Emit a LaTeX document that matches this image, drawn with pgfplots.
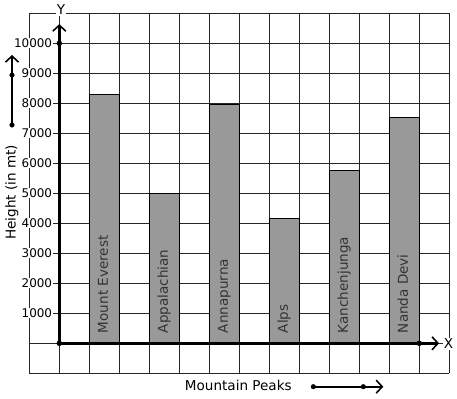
\documentclass[border=0pt]{standalone}
\usepackage{fontspec}
\setmainfont{DejaVu Sans}
\usepackage{pgfplots}
\pgfplotsset{compat=1.18}
\usetikzlibrary{arrows.meta}
\definecolor{barfill}{HTML}{999999}
\definecolor{gridc}{HTML}{262626}
\definecolor{labc}{HTML}{333333}
\newcommand{\bigf}{\fontsize{13.6}{16}\selectfont}
\tikzset{barb/.style={-{Straight Barb[length=6bp,width=13bp,line width=1.6bp]}},
  blab/.style={rotate=90, anchor=base west, inner sep=0, text=labc, font=\bigf}}
\begin{document}
\begin{tikzpicture}
\useasboundingbox (-29.3bp,-25.7bp) rectangle (427.7bp,373.3bp);
\begin{axis}[
  scale only axis, width=420bp, height=360bp,
  xmin=-1, xmax=13, ymin=-1000, ymax=11000,
  axis line style={draw=none},
  scaled y ticks=false, scaled x ticks=false,
  xtick={-1,0,...,13}, xticklabels={},
  ytick={1000,2000,...,10000},
  yticklabels={1000,2000,3000,4000,5000,6000,7000,8000,9000,10000},
  minor ytick={-1000,0,11000},
  grid=both,
  major grid style={gridc, line width=0.8bp},
  minor grid style={gridc, line width=0.8bp},
  major tick length=0, minor tick length=0,
  yticklabel style={font=\fontsize{12}{14}\selectfont, fill=white, inner xsep=1bp, inner ysep=0.5bp, anchor=east, xshift=24bp},
  clip=false,
]
\addplot[ybar, bar width=1, fill=barfill, draw=black, line width=0.8bp]
  coordinates {(1.5,8300) (3.5,5000) (5.5,7960) (7.5,4170) (9.5,5770) (11.5,7520)};
\addplot[line width=2.5bp, barb] coordinates {(0,0) (0,10640)};
\addplot[line width=2.5bp, barb] coordinates {(0,0) (12.66,0)};
\addplot[only marks, mark=*, mark size=2.5bp, black] coordinates {(0,0) (0,10000) (12,0)};
\addplot[line width=2bp, barb] coordinates {(-1.577,7277) (-1.577,9610)};
\addplot[only marks, mark=*, mark size=2.3bp, black] coordinates {(-1.577,7277) (-1.577,8940)};
\addplot[line width=2bp, barb] coordinates {(8.467,-1447) (10.8,-1447)};
\addplot[only marks, mark=*, mark size=2.3bp, black] coordinates {(8.467,-1447) (10.133,-1447)};
\node[rotate=90, font=\bigf] at (axis cs:-1.577,5030) {Height (in mt)};
\node[font=\bigf] at (axis cs:5.967,-1390) {Mountain Peaks};
\node[fill=white, inner sep=1bp, font=\bigf] at (axis cs:0.057,11110) {Y};
\node[fill=white, inner sep=1bp, font=\bigf] at (axis cs:12.97,-10) {X};
\node[blab] at (axis cs:1.623,333) {Mount Everest};
\node[blab] at (axis cs:3.623,333) {Appalachian};
\node[blab] at (axis cs:5.623,333) {Annapurna};
\node[blab] at (axis cs:7.623,333) {Alps};
\node[blab] at (axis cs:9.623,333) {Kanchenjunga};
\node[blab] at (axis cs:11.623,333) {Nanda Devi};
\end{axis}
\end{tikzpicture}
\end{document}
